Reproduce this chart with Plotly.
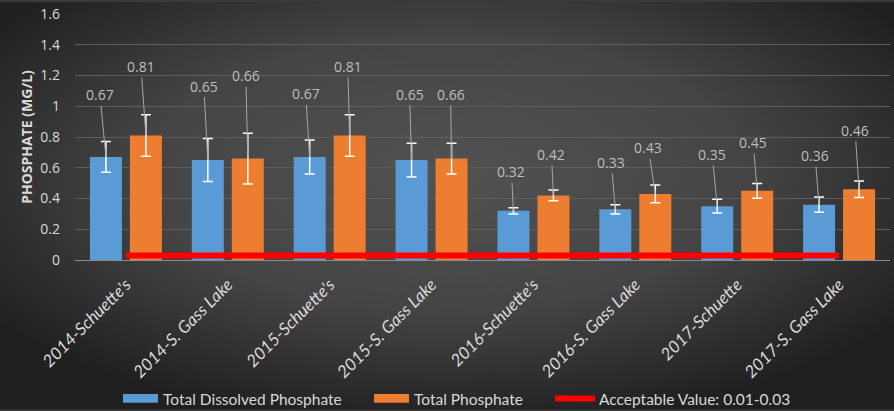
import base64
import plotly.graph_objects as go

categories = ["2014-Schuette's", "2014-S. Gass Lake", "2015-Schuette's", "2015-S. Gass Lake",
              "2016-Schuette's", "2016-S. Gass Lake", "2017-Schuette", "2017-S. Gass Lake"]
dissolved = [0.67, 0.65, 0.67, 0.65, 0.32, 0.33, 0.35, 0.36]
dissolved_err = [0.10, 0.14, 0.11, 0.11, 0.02, 0.03, 0.045, 0.05]
total = [0.81, 0.66, 0.81, 0.66, 0.42, 0.43, 0.45, 0.46]
total_err = [0.135, 0.165, 0.135, 0.10, 0.035, 0.057, 0.048, 0.054]
acceptable = [0.03] * 8

series_names = ["Total Dissolved Phosphate", "Total Phosphate", "Acceptable Value: 0.01-0.03"]
series_colors = ["#5b9bd5", "#ed7d31", "#ff0000"]

y_ticks = [0, 0.2, 0.4, 0.6, 0.8, 1, 1.2, 1.4, 1.6]
y_ticktext = ["0", "0.2", "0.4", "0.6", "0.8", "1", "1.2", "1.4", "1.6"]

# label placement offsets (pixels) for leader-line data labels
blue_off = [(-6, -62), (-4, -74), (-4, -63), (-2, -66), (-2, -39), (-4, -47), (-5, -52), (-4, -49)]
orange_off = [(-5, -69), (-2, -83), (-2, -69), (-1, -64), (-2, -41), (-7, -46), (-4, -48), (-4, -59)]

W, H = 894, 411
L, R, T, B = 75, 4, 12, 151
pw, ph = W - L - R, H - T - B


def px(xp):
    return (xp - L) / pw


def py(yp):
    return (H - B - yp) / ph


svg = (f"<svg xmlns='http://www.w3.org/2000/svg' width='{W}' height='{H}'>"
       "<defs><radialGradient id='g' cx='50%' cy='42%' r='62%'>"
       "<stop offset='0' stop-color='#525252'/><stop offset='0.55' stop-color='#444444'/>"
       "<stop offset='1' stop-color='#202020'/></radialGradient></defs>"
       f"<rect width='{W}' height='{H}' fill='url(#g)'/></svg>")
bg_src = "data:image/svg+xml;base64," + base64.b64encode(svg.encode()).decode()

fig = go.Figure()
fig.add_trace(go.Bar(
    x=categories, y=dissolved, name=series_names[0], showlegend=False,
    marker=dict(color=series_colors[0], line=dict(width=0)),
    error_y=dict(type="data", array=dissolved_err, color="#ffffff", thickness=1.5, width=5),
))
fig.add_trace(go.Bar(
    x=categories, y=total, name=series_names[1], showlegend=False,
    marker=dict(color=series_colors[1], line=dict(width=0)),
    error_y=dict(type="data", array=total_err, color="#ffffff", thickness=1.5, width=5),
))
fig.add_trace(go.Scatter(
    x=categories, y=acceptable, name=series_names[2], showlegend=False,
    mode="lines", line=dict(color=series_colors[2], width=6),
))

label_font = dict(family="Open Sans, sans-serif", size=14, color="#bfbfbf")
for i, c in enumerate(categories):
    for vals, off, shift in ((dissolved, blue_off, -20), (total, orange_off, 20)):
        fig.add_annotation(
            x=c, y=vals[i], xref="x", yref="y", xshift=shift,
            text=f"{vals[i]:.2f}", showarrow=True, arrowhead=0, arrowwidth=1,
            arrowcolor="#a6a6a6", ax=off[i][0], ay=off[i][1], standoff=0,
            font=label_font,
        )

# custom legend (wide swatches like the original)
legend_font = dict(family="Lato, sans-serif", size=15.5, color="#d9d9d9")
legend_items = [(123, 158, 161, "rect"), (374, 409, 412, "rect"), (555, 595, 597, "line")]
for (x0, x1, xt, kind), name, col in zip(legend_items, series_names, series_colors):
    if kind == "rect":
        fig.add_shape(type="rect", xref="paper", yref="paper", x0=px(x0), x1=px(x1),
                      y0=py(404), y1=py(395), fillcolor=col, line=dict(width=0))
    else:
        fig.add_shape(type="line", xref="paper", yref="paper", x0=px(x0), x1=px(x1),
                      y0=py(399.5), y1=py(399.5), line=dict(color=col, width=6))
    fig.add_annotation(x=px(xt), y=py(400), xref="paper", yref="paper", xanchor="left",
                       yanchor="middle", text=name, showarrow=False, font=legend_font)

fig.update_layout(
    width=W, height=H,
    margin=dict(l=L, r=R, t=T, b=B, pad=0),
    paper_bgcolor="#3a3a3a",
    plot_bgcolor="rgba(0,0,0,0)",
    barmode="group", bargap=0.215, bargroupgap=0.2,
    images=[dict(source=bg_src, xref="paper", yref="paper",
                 x=-L / pw, y=1 + T / ph, sizex=W / pw, sizey=H / ph,
                 xanchor="left", yanchor="top", sizing="stretch", layer="below")],
    showlegend=False,
)
fig.update_xaxes(
    tickangle=-45, showgrid=False, showline=True, linecolor="#8c8c8c", linewidth=1,
    ticks="", ticklabelstandoff=7,
    tickfont=dict(family="Lato, sans-serif", size=17, color="#d9d9d9", style="italic"),
)
fig.update_yaxes(
    range=[0, 1.6], tickvals=y_ticks, ticktext=y_ticktext,
    showgrid=True, gridcolor="#5e5e5e", gridwidth=1, zeroline=False, showline=False,
    tickfont=dict(family="Open Sans, sans-serif", size=14, color="#d9d9d9"),
    ticklabelstandoff=14,
    title=dict(text="<b>PHOSPHATE (MG/L)</b>", standoff=4,
               font=dict(family="Open Sans, sans-serif", size=14, color="#d9d9d9")),
)

fig.write_html("out.html", config={"displayModeBar": False},
               post_script="document.body.style.margin='0';")
